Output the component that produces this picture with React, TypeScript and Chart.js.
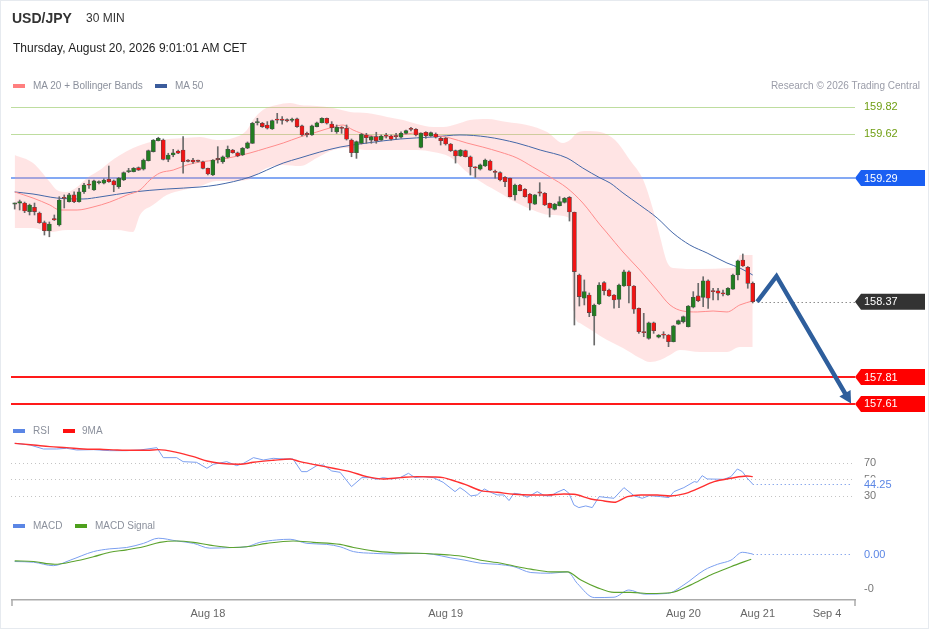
import React, { useEffect, useRef } from "react";
import { Chart, registerables } from "chart.js";

Chart.register(...registerables);

// ---------- DATA ----------
const opens = [
  159.096, 159.102, 159.104, 159.040, 159.072, 159.030, 158.958, 158.898, 158.989, 158.941,
  159.141, 159.114, 159.164, 159.114, 159.188, 159.238, 159.201, 159.255, 159.251, 159.280,
  159.268, 159.225, 159.275, 159.337, 159.337, 159.367, 159.355, 159.419, 159.486, 159.567,
  159.572, 159.429, 159.461, 159.491, 159.498, 159.416, 159.424, 159.416, 159.411, 159.362,
  159.312, 159.429, 159.411, 159.444, 159.498, 159.478, 159.461, 159.511, 159.548, 159.701,
  159.697, 159.684, 159.654, 159.721, 159.721, 159.718, 159.719, 159.729, 159.677, 159.615,
  159.610, 159.672, 159.701, 159.734, 159.691, 159.634, 159.660, 159.660, 159.572, 159.478,
  159.548, 159.610, 159.572, 159.597, 159.572, 159.602, 159.602, 159.599, 159.593, 159.622,
  159.652, 159.652, 159.518, 159.630, 159.602, 159.617, 159.585, 159.585, 159.543, 159.493,
  159.454, 159.493, 159.448, 159.368, 159.355, 159.379, 159.416, 159.337, 159.330, 159.295,
  159.288, 159.164, 159.238, 159.206, 159.169, 159.096, 159.181, 159.176, 159.102, 159.057,
  159.084, 159.109, 159.146, 159.035, 158.569, 158.396, 158.420, 158.264, 158.353, 158.512,
  158.457, 158.420, 158.388, 158.487, 158.593, 158.487, 158.321, 158.141, 158.098, 158.214,
  158.106, 158.123, 158.123, 158.073, 158.204, 158.222, 158.184, 158.329, 158.413, 158.403,
  158.526, 158.446, 158.452, 158.430, 158.420, 158.463, 158.569, 158.680, 158.626, 158.507,
];
const highs = [
  159.104, 159.126, 159.111, 159.096, 159.104, 159.037, 158.970, 158.963, 159.015, 159.151,
  159.164, 159.176, 159.188, 159.213, 159.251, 159.275, 159.275, 159.268, 159.283, 159.379,
  159.275, 159.294, 159.335, 159.362, 159.368, 159.372, 159.431, 159.498, 159.576, 159.593,
  159.580, 159.474, 159.503, 159.498, 159.598, 159.427, 159.436, 159.424, 159.416, 159.364,
  159.427, 159.523, 159.454, 159.528, 159.503, 159.483, 159.517, 159.558, 159.703, 159.734,
  159.703, 159.709, 159.721, 159.771, 159.746, 159.729, 159.736, 159.736, 159.684, 159.632,
  159.684, 159.706, 159.738, 159.736, 159.709, 159.684, 159.672, 159.684, 159.580, 159.565,
  159.621, 159.622, 159.602, 159.630, 159.610, 159.622, 159.610, 159.622, 159.634, 159.647,
  159.667, 159.658, 159.625, 159.634, 159.632, 159.625, 159.593, 159.591, 159.547, 159.498,
  159.502, 159.498, 159.454, 159.374, 159.394, 159.431, 159.424, 159.349, 159.335, 159.300,
  159.290, 159.245, 159.242, 159.212, 159.175, 159.167, 159.255, 159.182, 159.104, 159.102,
  159.151, 159.145, 159.152, 159.037, 158.576, 158.532, 158.435, 158.353, 158.512, 158.519,
  158.465, 158.424, 158.502, 158.606, 158.599, 158.491, 158.324, 158.284, 158.219, 158.219,
  158.126, 158.147, 158.126, 158.193, 158.234, 158.264, 158.342, 158.445, 158.507, 158.556,
  158.532, 158.470, 158.470, 158.457, 158.476, 158.576, 158.680, 158.725, 158.632, 158.517,
];
const lows = [
  159.059, 159.052, 159.032, 159.015, 159.015, 158.953, 158.866, 158.853, 158.974, 158.933,
  159.067, 159.111, 159.106, 159.111, 159.176, 159.213, 159.197, 159.246, 159.246, 159.258,
  159.188, 159.213, 159.271, 159.330, 159.335, 159.346, 159.349, 159.416, 159.483, 159.565,
  159.424, 159.411, 159.448, 159.470, 159.325, 159.409, 159.399, 159.409, 159.357, 159.312,
  159.308, 159.401, 159.399, 159.439, 159.474, 159.448, 159.457, 159.508, 159.547, 159.684,
  159.666, 159.654, 159.651, 159.697, 159.691, 159.706, 159.706, 159.666, 159.602, 159.595,
  159.606, 159.669, 159.699, 159.691, 159.634, 159.622, 159.622, 159.572, 159.448, 159.436,
  159.543, 159.548, 159.548, 159.548, 159.569, 159.587, 159.572, 159.578, 159.587, 159.617,
  159.640, 159.602, 159.513, 159.585, 159.599, 159.587, 159.535, 159.535, 159.487, 159.401,
  159.450, 159.446, 159.312, 159.295, 159.349, 159.375, 159.346, 159.288, 159.268, 159.225,
  159.149, 159.126, 159.193, 159.147, 159.052, 159.093, 159.156, 159.085, 159.000, 159.052,
  159.082, 159.104, 158.970, 158.197, 158.338, 158.346, 158.259, 158.048, 158.349, 158.420,
  158.409, 158.323, 158.326, 158.483, 158.361, 158.284, 158.135, 158.110, 158.091, 158.135,
  158.101, 158.098, 158.036, 158.071, 158.201, 158.212, 158.182, 158.324, 158.370, 158.333,
  158.321, 158.383, 158.383, 158.413, 158.417, 158.461, 158.532, 158.632, 158.470, 158.361,
];
const closes = [
  159.096, 159.114, 159.045, 159.089, 159.040, 158.958, 158.898, 158.948, 158.978, 159.126,
  159.138, 159.164, 159.114, 159.188, 159.238, 159.236, 159.268, 159.257, 159.275, 159.262,
  159.238, 159.288, 159.330, 159.338, 159.362, 159.349, 159.424, 159.493, 159.572, 159.585,
  159.429, 159.461, 159.478, 159.474, 159.411, 159.414, 159.409, 159.414, 159.362, 159.320,
  159.424, 159.427, 159.448, 159.503, 159.478, 159.454, 159.511, 159.552, 159.697, 159.703,
  159.672, 159.660, 159.716, 159.720, 159.719, 159.715, 159.721, 159.672, 159.610, 159.613,
  159.677, 159.701, 159.734, 159.697, 159.664, 159.667, 159.658, 159.578, 159.478, 159.560,
  159.615, 159.590, 159.597, 159.567, 159.602, 159.601, 159.578, 159.597, 159.622, 159.642,
  159.651, 159.610, 159.622, 159.604, 159.627, 159.593, 159.567, 159.543, 159.493, 159.454,
  159.498, 159.448, 159.374, 159.364, 159.387, 159.424, 159.349, 159.331, 159.275, 159.262,
  159.151, 159.238, 159.196, 159.151, 159.102, 159.164, 159.178, 159.089, 159.065, 159.096,
  159.114, 159.139, 159.037, 158.594, 158.408, 158.445, 158.289, 158.346, 158.494, 158.452,
  158.413, 158.383, 158.494, 158.593, 158.487, 158.314, 158.147, 158.140, 158.214, 158.155,
  158.123, 158.121, 158.073, 158.190, 158.229, 158.259, 158.338, 158.403, 158.378, 158.526,
  158.396, 158.444, 158.433, 158.428, 158.470, 158.569, 158.675, 158.636, 158.507, 158.370,
];

// Bollinger bands, MA20, MA50 as [candle index, price]
const upperBand = [
  [0, 159.461], [3.7, 159.401], [7.1, 159.26], [8.5, 159.201], [10.6, 159.186], [12.6, 159.223],
  [14.6, 159.29], [17.2, 159.349], [19.2, 159.409], [21.3, 159.461], [23.9, 159.513], [26.7, 159.55],
  [29.3, 159.572], [34, 159.587], [37.4, 159.595], [40.8, 159.572], [44.1, 159.587], [46.9, 159.647],
  [48.1, 159.721], [50.1, 159.796], [52.9, 159.833], [55.6, 159.848], [57.6, 159.833], [61, 159.825],
  [64.3, 159.81], [67.7, 159.781], [71.1, 159.773], [75.2, 159.744], [78.4, 159.721], [81.2, 159.691],
  [84.5, 159.669], [86.5, 159.669], [89.3, 159.691], [91.9, 159.721], [95.4, 159.729], [99.4, 159.706],
  [103.4, 159.684], [107.5, 159.632], [110.7, 159.55], [112.1, 159.572], [113.5, 159.625], [115.5, 159.64],
  [118.2, 159.632], [121.2, 159.572], [124.2, 159.424], [126.9, 159.275], [128.9, 159.052], [130.3, 158.851],
  [131.7, 158.665], [132.9, 158.621], [138.4, 158.613], [144.4, 158.621], [145.8, 158.636], [146.4, 158.717],
  [149, 158.717],
];
const lowerBand = [
  [0, 158.918], [3.7, 158.918], [7.1, 158.889], [10.6, 158.904], [13.8, 158.904], [17.2, 158.904],
  [20.7, 158.904], [23.9, 158.889], [25.3, 159.015], [27.9, 159.089], [30.7, 159.164], [34, 159.201],
  [37.4, 159.23], [40.8, 159.268], [44.1, 159.268], [46.9, 159.275], [50.9, 159.364], [54.2, 159.387],
  [57.6, 159.379], [61, 159.439], [64.3, 159.498], [67.7, 159.513], [71.1, 159.498], [81.2, 159.498],
  [84.5, 159.483], [87.9, 159.446], [91.3, 159.335], [94.5, 159.253], [98, 159.179], [101.4, 159.104],
  [104.6, 159.052], [108.1, 159.015], [112.1, 158.993], [112.9, 158.3], [114.1, 158.212], [119.6, 158.086],
  [122.8, 158.026], [126.2, 157.952], [128.3, 157.922], [130.3, 157.937], [132.3, 157.974], [134.3, 158.011],
  [138.4, 157.996], [143.8, 157.996], [146.4, 158.033], [149, 158.033],
];
const ma20 = [
  [0, 159.186], [3.7, 159.141], [7.1, 159.089], [9.1, 159.052], [12.6, 159.052], [15.8, 159.074],
  [19.2, 159.111], [22.7, 159.164], [25.3, 159.201], [27.3, 159.275], [29.3, 159.327], [32, 159.349],
  [34.8, 159.387], [37.4, 159.409], [40.8, 159.424], [44.1, 159.446], [47.5, 159.476], [50.9, 159.513],
  [54.2, 159.55], [57.6, 159.595], [61, 159.632], [64.3, 159.669], [66.3, 159.684], [68.3, 159.647],
  [71.1, 159.61], [74.4, 159.595], [77.8, 159.61], [81.2, 159.625], [84.5, 159.61], [87.9, 159.587],
  [91.3, 159.55], [94.5, 159.52], [98, 159.483], [101.4, 159.439], [104.6, 159.372], [108.1, 159.297],
  [111.5, 159.216], [114.7, 159.104], [118.2, 158.941], [119.6, 158.881], [122.8, 158.74], [126.2, 158.606],
  [129.7, 158.457], [132.3, 158.346], [134.9, 158.301], [137.8, 158.294], [141, 158.301], [143.8, 158.294],
  [146.4, 158.346], [149, 158.376],
];
const ma50 = [
  [0, 159.186], [3.7, 159.171], [8.5, 159.141], [13.8, 159.134], [17.2, 159.149], [23.9, 159.186],
  [30.7, 159.208], [37.4, 159.223], [40.8, 159.238], [47.5, 159.297], [54.2, 159.401], [57.6, 159.439],
  [61.6, 159.483], [65.7, 159.52], [71.1, 159.55], [77.8, 159.58], [84.5, 159.595], [89.9, 159.61],
  [95.4, 159.595], [101.4, 159.55], [106.1, 159.498], [111.5, 159.439], [114.7, 159.364], [118.2, 159.29],
  [120.2, 159.253], [122.8, 159.179], [126.2, 159.089], [129.7, 158.993], [132.9, 158.881], [136.3, 158.792],
  [139.8, 158.732], [143.8, 158.658], [146.4, 158.621], [149, 158.569],
];

// RSI and its 9-period MA as [candle index, value]
const rsi = [
  [0, 93.2], [3.1, 91.2], [5.8, 86.4], [8.5, 86.4], [10.5, 87.2], [12.5, 85.2], [15.9, 85.6], [19.2, 84.4],
  [22.6, 84.4], [25.3, 85.2], [28.7, 88], [30, 76], [32.7, 76], [34, 71.2], [36.7, 70.4], [38.8, 63.2],
  [40.1, 68], [42.8, 71.2], [44.8, 66.4], [46.2, 69.2], [48.2, 76], [50.2, 73.2], [52.2, 75.2], [54.2, 74.4],
  [56.2, 74.4], [57.9, 59.2], [59, 59.2], [61, 66.4], [62.3, 67.2], [64, 60], [65.7, 58.4], [68, 41.2],
  [70.1, 52], [71.7, 52], [73.1, 50], [74.4, 52], [76.1, 50.4], [77.8, 52], [79.5, 57.2], [80.8, 52],
  [82.5, 53.2], [84.5, 52], [86.5, 46.4], [88.9, 35.2], [89.9, 40], [90.9, 36], [92.1, 30], [93.4, 31.2],
  [94.8, 38.4], [96.1, 34.4], [97.4, 31.2], [98.8, 31.2], [99.8, 24.4], [100.8, 33.2], [102.2, 32], [103.5, 28.4],
  [105.5, 35.2], [106.9, 30.4], [108.2, 30], [109.5, 34.4], [110.9, 38], [111.9, 33.2], [112.9, 19.2], [113.9, 16],
  [115.3, 18], [116.6, 16], [118, 29.2], [119.6, 28], [121, 27.2], [123, 40], [125, 30.4], [126.7, 27.2],
  [128.1, 30.4], [130.4, 29.2], [132.1, 28], [133.1, 35.2], [135.1, 40], [137.2, 47.2], [137.8, 46.4], [138.8, 54.4],
  [139.8, 50.4], [143.2, 50], [144.6, 53.2], [145.9, 62.4], [146.9, 59.2], [147.8, 52], [149, 44.25],
];
const rsiMa = [
  [0, 93.2], [3.8, 91.2], [7.1, 89.2], [10.5, 88], [13.9, 86.4], [17.2, 86], [20.6, 85.2], [23.9, 84.8],
  [26.7, 84.8], [29, 85.6], [32.7, 82.4], [36.1, 77.2], [38.8, 72], [41.4, 69.2], [45.5, 68], [48.2, 70.4],
  [52.2, 72.8], [55.6, 74.4], [57.6, 71.2], [61, 67.2], [64.3, 63.2], [67.7, 59.2], [71.1, 53.2], [74.4, 50.4],
  [77.8, 52], [81.2, 53.2], [84.5, 52.8], [86.5, 52], [89.2, 47.2], [90.9, 44], [94.1, 36.4], [97.4, 34.4],
  [100.8, 32], [104.2, 31.2], [107.5, 31.2], [110.9, 32.4], [112.9, 32], [116.3, 26.4], [119, 24], [121, 22.4],
  [123.7, 29.2], [126.4, 31.2], [129.7, 31.2], [132.4, 30], [135.1, 32.4], [137.8, 38.4], [141.2, 47.2], [144.6, 51.2],
  [147.8, 54], [149, 53.2],
];

// MACD and signal as [candle index, value]
const macd = [
  [0, -0.022], [3.8, -0.024], [7.8, -0.034], [11.2, -0.018], [15.9, 0.007], [19.2, 0.015], [22.6, 0.019],
  [26, 0.031], [29, 0.046], [32.7, 0.038], [36.1, 0.031], [39.4, 0.017], [44.1, 0.019], [46.8, 0.021],
  [49.5, 0.034], [52.9, 0.041], [55.6, 0.043], [59, 0.031], [63, 0.028], [65.7, 0.021], [68.4, 0.007],
  [72.4, 0.002], [76.4, 0], [81.2, 0.002], [84.5, -0.001], [87.9, -0.011], [90.9, -0.018], [94.1, -0.027],
  [97.4, -0.03], [100.8, -0.037], [104.2, -0.054], [108.2, -0.056], [111.6, -0.052], [113.6, -0.086],
  [117, -0.127], [121, -0.126], [124, -0.105], [127.1, -0.117], [131.8, -0.115], [135.1, -0.09],
  [139.2, -0.047], [141.9, -0.03], [144.6, -0.018], [146.9, 0.005], [149, 0],
];
const macdSignal = [
  [0, -0.02], [3.8, -0.022], [8.1, -0.03], [11.8, -0.022], [15.9, -0.008], [19.2, 0.005], [22.6, 0.012],
  [26, 0.021], [29.3, 0.034], [32.7, 0.038], [36.1, 0.034], [39.4, 0.026], [44.1, 0.019], [46.8, 0.021],
  [50.9, 0.031], [56.2, 0.038], [60.3, 0.034], [65.7, 0.028], [68.4, 0.019], [72.4, 0.009], [76.4, 0.004],
  [81.2, 0.002], [84.5, 0], [87.9, -0.003], [90.9, -0.008], [94.1, -0.018], [97.4, -0.025], [100.8, -0.035],
  [104.2, -0.044], [108.2, -0.052], [111.6, -0.052], [114.3, -0.076], [117.6, -0.098], [121, -0.112],
  [124.4, -0.112], [128.4, -0.115], [132.4, -0.113], [136.5, -0.09], [140.5, -0.061], [144.6, -0.037],
  [148.7, -0.015],
];

const resistanceLevels = [159.82, 159.62];
const pivotLevel = 159.29;
const supportLevels = [157.81, 157.61];
const lastPrice = 158.37;
const rsiLevels = [70, 50, 30];
const rsiLast = 44.25;
const macdLast = 0.0;
const macdTickValue = -0.1;
const macdTickLabel = "-0";

const projIdx = [149.9, 153.8, 168.85];
const projPrice = [158.37, 158.56, 157.613];

const xTickValues = [39, 87, 135, 150, 164];
const xTickLabels = ["Aug 18", "Aug 19", "Aug 20", "Aug 21", "Sep 4"];

// ---------- STYLE ----------
const FONT = '"Liberation Sans", Arial, Helvetica, sans-serif';
const GREEN_C = "#217d21";
const RED_C = "#f01414";

const overlayPlugin = {
  id: "overlay",
  beforeDatasetsDraw(chart: any) {
    const { ctx, chartArea, scales } = chart;
    const y = scales.y, yr = scales.yr, ym = scales.ym, x = scales.x;
    const L = chartArea.left - 1;
    const R = chartArea.right;
    ctx.save();
    const hline = (py: number, x0: number, x1: number, color: string, w: number, dash: number[] = []) => {
      ctx.beginPath();
      ctx.setLineDash(dash);
      ctx.strokeStyle = color;
      ctx.lineWidth = w;
      ctx.moveTo(x0, py);
      ctx.lineTo(x1, py);
      ctx.stroke();
    };
    resistanceLevels.forEach((v) => hline(Math.round(y.getPixelForValue(v)) + 0.5, L, R, "#bedd9f", 1));
    hline(y.getPixelForValue(pivotLevel), L, R, "#5b8cf0", 1.6);
    supportLevels.forEach((v) => hline(y.getPixelForValue(v), L, R, "#ff1a1a", 2));
    // last price dotted line
    hline(Math.round(y.getPixelForValue(lastPrice)) + 0.5, x.getPixelForValue(150), R, "#555", 1, [1, 3]);
    // RSI levels
    rsiLevels.forEach((v) => hline(Math.round(yr.getPixelForValue(v)) + 0.5, L, R - 3, "#c4c4c4", 1, [1, 3]));
    hline(Math.round(yr.getPixelForValue(rsiLast)) + 0.5, x.getPixelForValue(149), R - 3, "#5b86e5", 1, [1, 3]);
    hline(Math.round(ym.getPixelForValue(macdLast)) + 0.5, x.getPixelForValue(149), R - 3, "#5b86e5", 1, [1, 3]);
    ctx.restore();
  },
  afterDatasetsDraw(chart: any) {
    const { ctx, chartArea, scales } = chart;
    const y = scales.y, yr = scales.yr, ym = scales.ym, x = scales.x;
    const R = chartArea.right;
    const TX = R + 9;
    ctx.save();
    ctx.font = `11px ${FONT}`;
    ctx.textBaseline = "middle";
    ctx.textAlign = "left";

    const tag = (py: number, text: string, bg: string) => {
      ctx.fillStyle = bg;
      ctx.beginPath();
      ctx.moveTo(R, py);
      ctx.lineTo(R + 6, py - 8);
      ctx.lineTo(R + 70, py - 8);
      ctx.lineTo(R + 70, py + 8);
      ctx.lineTo(R + 6, py + 8);
      ctx.closePath();
      ctx.fill();
      ctx.fillStyle = "#fff";
      ctx.fillText(text, TX, py + 0.5);
    };

    resistanceLevels.forEach((v) => {
      ctx.fillStyle = "#6f9e12";
      ctx.fillText(v.toFixed(2), TX, y.getPixelForValue(v) + 0.5);
    });
    tag(y.getPixelForValue(pivotLevel), pivotLevel.toFixed(2), "#1a5ff2");
    tag(y.getPixelForValue(lastPrice), lastPrice.toFixed(2), "#333333");
    supportLevels.forEach((v) => tag(y.getPixelForValue(v), v.toFixed(2), "#ff0000"));

    // RSI labels
    rsiLevels.forEach((v) => {
      ctx.fillStyle = "#777";
      ctx.fillText(String(v), TX, yr.getPixelForValue(v) + 0.5);
    });
    const ry = yr.getPixelForValue(rsiLast);
    ctx.fillStyle = "#fff";
    ctx.fillRect(TX - 1, ry - 6.5, 34, 13);
    ctx.fillStyle = "#5b86e5";
    ctx.fillText(rsiLast.toFixed(2), TX, ry + 0.5);

    // MACD labels
    ctx.fillStyle = "#5b86e5";
    ctx.fillText(macdLast.toFixed(2), TX, ym.getPixelForValue(macdLast) + 0.5);
    ctx.fillStyle = "#777";
    ctx.fillText(macdTickLabel, TX, ym.getPixelForValue(macdTickValue) + 0.5);

    // projection arrow
    const pts = projIdx.map((v, k) => [x.getPixelForValue(v), y.getPixelForValue(projPrice[k])]);
    const tip = pts[2];
    const prev = pts[1];
    const dx = tip[0] - prev[0], dy = tip[1] - prev[1];
    const len = Math.hypot(dx, dy);
    const ux = dx / len, uy = dy / len;
    const headLen = 12, headW = 6.5;
    const bx = tip[0] - ux * headLen, by = tip[1] - uy * headLen;
    ctx.strokeStyle = "#2e5e9c";
    ctx.fillStyle = "#2e5e9c";
    ctx.lineWidth = 4.5;
    ctx.lineJoin = "miter";
    ctx.setLineDash([]);
    ctx.beginPath();
    ctx.moveTo(pts[0][0], pts[0][1]);
    ctx.lineTo(pts[1][0], pts[1][1]);
    ctx.lineTo(bx + ux * 2, by + uy * 2);
    ctx.stroke();
    ctx.beginPath();
    ctx.moveTo(tip[0], tip[1]);
    ctx.lineTo(bx - uy * headW, by + ux * headW);
    ctx.lineTo(bx + uy * headW, by - ux * headW);
    ctx.closePath();
    ctx.fill();

    // axis end ticks
    ctx.strokeStyle = "#ababab";
    ctx.lineWidth = 1.5;
    ctx.beginPath();
    ctx.moveTo(chartArea.left, chartArea.bottom);
    ctx.lineTo(chartArea.left, chartArea.bottom + 6);
    ctx.moveTo(chartArea.right, chartArea.bottom);
    ctx.lineTo(chartArea.right, chartArea.bottom + 6);
    ctx.stroke();
    ctx.restore();
  },
};

export default function App() {
  const ref = useRef<HTMLCanvasElement | null>(null);

  useEffect(() => {
    document.body.style.margin = "0";
    document.body.style.overflow = "hidden";
    Chart.defaults.font.family = FONT;
    const idx = closes.map((_, i) => i);
    const bodyColors = closes.map((c, i) => (c >= opens[i] ? GREEN_C : RED_C));
    const line = (data: number[][], color: string, width: number, yAxisID: string, extra: any = {}) => ({
      type: "line" as const,
      data,
      borderColor: color,
      borderWidth: width,
      pointRadius: 0,
      fill: false,
      yAxisID,
      cubicInterpolationMode: "monotone",
      ...extra,
    });
    const chart = new Chart(ref.current as HTMLCanvasElement, {
      type: "bar",
      data: {
        datasets: [
          {
            type: "bar",
            data: idx.map((i) => ({ x: i, y: [opens[i], closes[i]] })) as any,
            backgroundColor: bodyColors,
            borderColor: "#4d4d4d",
            borderWidth: 0.6,
            borderSkipped: false,
            barThickness: 4,
            minBarLength: 1.2,
            grouped: false,
            yAxisID: "y",
            order: 0,
          } as any,
          {
            type: "bar",
            data: idx.map((i) => ({ x: i, y: [lows[i], highs[i]] })) as any,
            backgroundColor: "#6a6a6a",
            borderWidth: 0,
            barThickness: 1,
            grouped: false,
            yAxisID: "y",
            order: 1,
          } as any,
          line(ma20, "#ff8c8c", 1, "y", { order: 2 }),
          line(ma50, "#4467a8", 1, "y", { order: 2 }),
          line(upperBand, "rgba(0,0,0,0)", 0, "y", { order: 5 }),
          line(lowerBand, "rgba(0,0,0,0)", 0, "y", {
            order: 6,
            fill: "-1",
            backgroundColor: "rgba(255,150,150,0.26)",
          }),
          line(rsi, "#7b9ff0", 1, "yr", { order: 3, cubicInterpolationMode: "default", tension: 0 }),
          line(rsiMa, "#ff3030", 1.4, "yr", { order: 2 }),
          line(macd, "#7b9ff0", 1, "ym", { order: 3 }),
          line(macdSignal, "#5ca32e", 1.1, "ym", { order: 2 }),
        ] as any,
      },
      options: {
        animation: false,
        responsive: false,
        events: [],
        layout: { padding: { left: 12, right: 74, top: 100, bottom: 0 } },
        plugins: { legend: { display: false }, tooltip: { enabled: false } },
        scales: {
          x: {
            type: "linear",
            min: -0.545,
            max: 169.65,
            offset: false,
            grid: { display: false, drawTicks: false },
            border: { display: true, color: "#ababab", width: 1.5 },
            afterBuildTicks: (s: any) => {
              s.ticks = xTickValues.map((v) => ({ value: v }));
            },
            afterFit: (s: any) => {
              s.height = 29;
            },
            ticks: {
              autoSkip: false,
              maxRotation: 0,
              padding: 7,
              color: "#666",
              font: { size: 11, family: FONT },
              callback: (v: any) => {
                const k = xTickValues.indexOf(Number(v));
                return k >= 0 ? xTickLabels[k] : "";
              },
            },
          },
          y: { type: "linear", display: false, min: 156.1524, max: 159.8699 },
          yr: { type: "linear", display: false, min: -94.99, max: 505.6 },
          ym: { type: "linear", display: false, min: -0.1341, max: 1.3236 },
        },
      } as any,
      plugins: [overlayPlugin],
    });
    return () => chart.destroy();
  }, []);

  const legendText: React.CSSProperties = {
    position: "absolute",
    fontSize: 10,
    lineHeight: "12px",
    color: "#8b909c",
    whiteSpace: "nowrap",
  };
  const swatch = (left: number, top: number, color: string): React.CSSProperties => ({
    position: "absolute",
    left,
    top,
    width: 12,
    height: 4,
    background: color,
  });

  return (
    <div
      style={{
        position: "absolute",
        left: 0,
        top: 0,
        width: 929,
        height: 629,
        background: "#fff",
        fontFamily: FONT,
        overflow: "hidden",
      }}
    >
      <canvas ref={ref} width={929} height={629} style={{ position: "absolute", left: 0, top: 0 }} />
      <div style={{ position: "absolute", left: 12, top: 10, fontSize: 14, lineHeight: "16px", fontWeight: "bold", color: "#333" }}>
        USD/JPY
      </div>
      <div style={{ position: "absolute", left: 86, top: 10, fontSize: 12, lineHeight: "16px", color: "#333" }}>30 MIN</div>
      <div style={{ position: "absolute", left: 13, top: 40, fontSize: 12, lineHeight: "16px", color: "#222" }}>
        Thursday, August 20, 2026 9:01:01 AM CET
      </div>

      <div style={swatch(13, 84, "#ff7f7f")} />
      <div style={{ ...legendText, left: 33, top: 80 }}>MA 20 + Bollinger Bands</div>
      <div style={swatch(155, 84, "#3b5c9c")} />
      <div style={{ ...legendText, left: 175, top: 80 }}>MA 50</div>
      <div style={{ ...legendText, right: 9, top: 80, color: "#9a9ca8" }}>Research © 2026 Trading Central</div>

      <div style={swatch(13, 429, "#5b86e5")} />
      <div style={{ ...legendText, left: 33, top: 425 }}>RSI</div>
      <div style={swatch(63, 429, "#ff1010")} />
      <div style={{ ...legendText, left: 82, top: 425 }}>9MA</div>

      <div style={swatch(13, 524, "#5b86e5")} />
      <div style={{ ...legendText, left: 33, top: 520 }}>MACD</div>
      <div style={swatch(75, 524, "#4ea01d")} />
      <div style={{ ...legendText, left: 95, top: 520 }}>MACD Signal</div>

      <div
        style={{
          position: "absolute",
          left: 0,
          top: 0,
          width: 929,
          height: 629,
          boxSizing: "border-box",
          border: "1px solid #e6eaef",
          pointerEvents: "none",
        }}
      />
    </div>
  );
}
